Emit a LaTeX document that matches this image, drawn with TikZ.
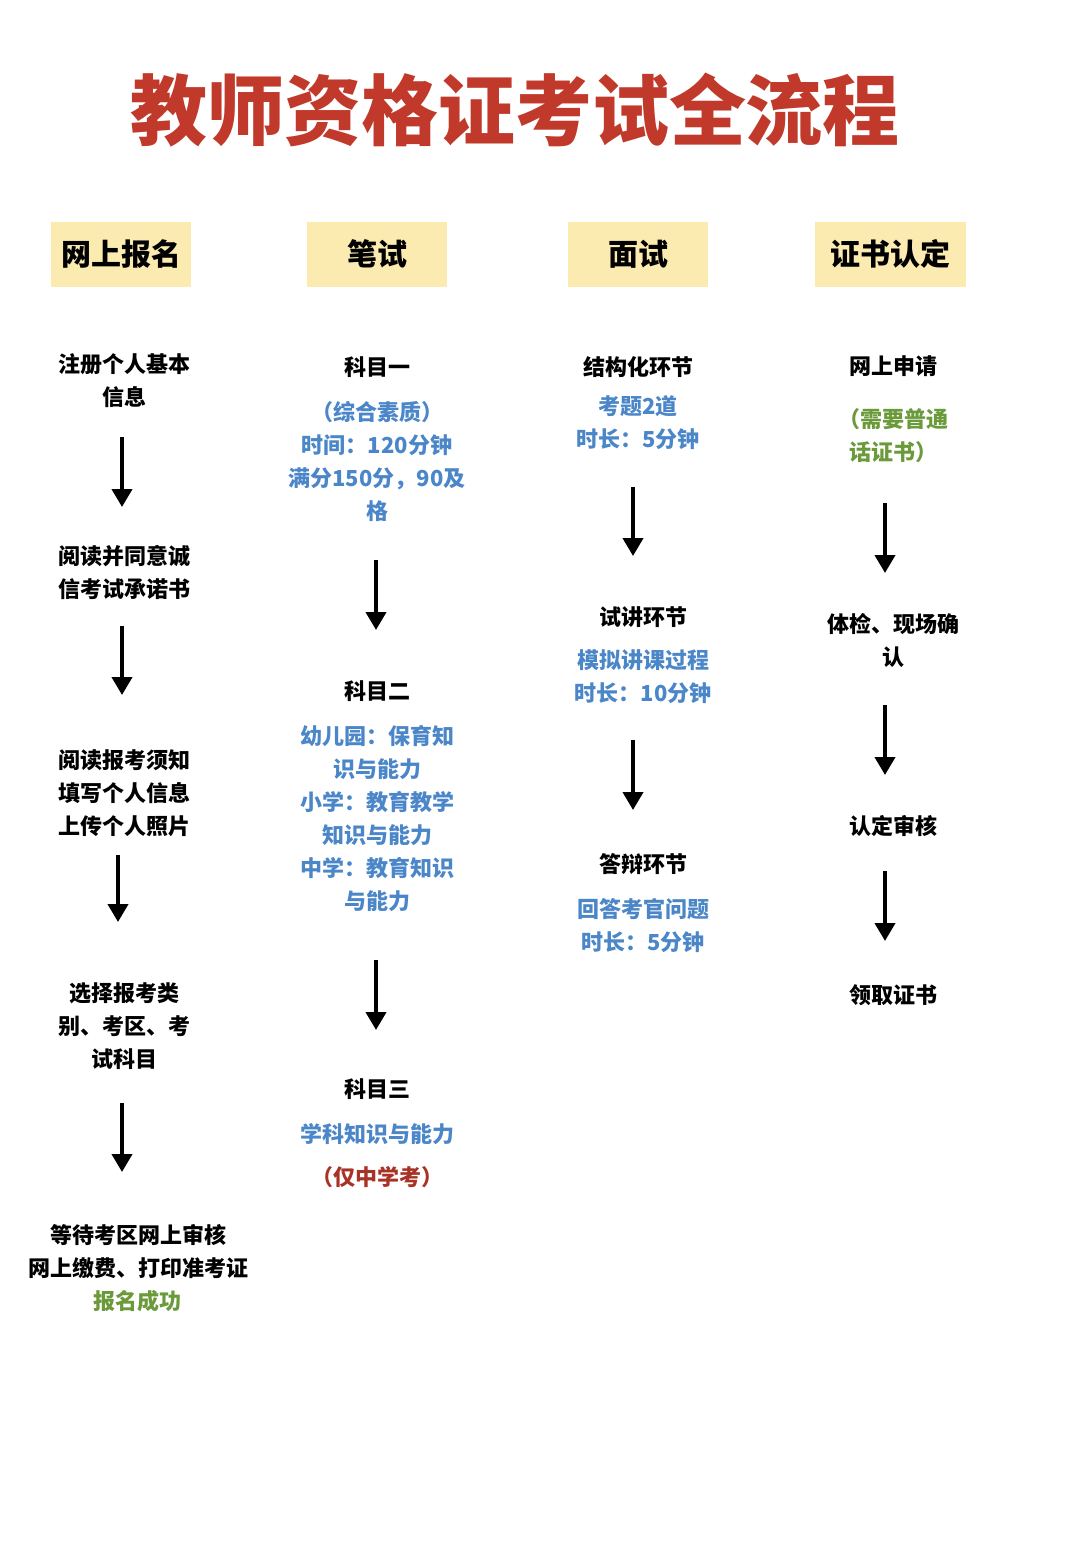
\documentclass[tikz,border=0pt]{standalone}
\usepackage{fontspec}
\usepackage{xcolor}
\usetikzlibrary{arrows.meta}
\newfontfamily\cjk{Noto Sans CJK SC}
\definecolor{titlered}{HTML}{C0392B}
\definecolor{headfill}{HTML}{FCEBB0}
\definecolor{stepblue}{HTML}{4A86C8}
\definecolor{stepgreen}{HTML}{6A9A3A}
\definecolor{stepred}{HTML}{A93226}
\tikzset{
  stage/.style={inner sep=0pt, align=center, font=\cjk\bfseries\fontsize{22pt}{33pt}\selectfont},
  head/.style={fill=headfill, minimum width=140pt, minimum height=65pt, inner sep=0pt, font=\cjk\bfseries\fontsize{30pt}{34pt}\selectfont},
  arr/.style={line width=4pt, -{Triangle[width=20pt,length=18pt]}},
}
\begin{document}
\begin{tikzpicture}[x=1pt,y=-1pt]
\useasboundingbox[fill=white] (0,0) rectangle (1080,1548);

% Title
\node[font=\cjk\bfseries\fontsize{77pt}{80pt}\selectfont, text=titlered] (title) at (515,110) {教师资格证考试全流程};

% Headers
\node[head] (h1) at (121,254) {网上报名};
\node[head] (h2) at (377,254) {笔试};
\node[head] (h3) at (638,254) {面试};
\node[head, minimum width=151pt] (h4) at (890,254) {证书认定};

% Column 1
\node[stage] (a1) at (124,381) {注册个人基本\\信息};
\node[stage] (a2) at (124,573) {阅读并同意诚\\信考试承诺书};
\node[stage] (a3) at (124,793) {阅读报考须知\\填写个人信息\\上传个人照片};
\node[stage] (a4) at (124,1026) {选择报考类\\别、考区、考\\试科目};
\node[stage] (a5) at (138,1268) {等待考区网上审核\\网上缴费、打印准考证\\\textcolor{stepgreen}{报名成功}};

% Column 2
\node[stage] (b1) at (377,439) {科目一\\[12pt]\color{stepblue}（综合素质）\\\color{stepblue}时间：120分钟\\\color{stepblue}满分150分，90及\\\color{stepblue}格};
\node[stage] (b2) at (377,796) {科目二\\[12pt]\color{stepblue}幼儿园：保育知\\\color{stepblue}识与能力\\\color{stepblue}小学：教育教学\\\color{stepblue}知识与能力\\\color{stepblue}中学：教育知识\\\color{stepblue}与能力};
\node[stage] (b3) at (377,1133) {科目三\\[12pt]\color{stepblue}学科知识与能力\\[10pt]\color{stepred}（仅中学考）};

% Column 3
\node[stage] (c1) at (638,403) {结构化环节\\[6pt]\color{stepblue}考题2道\\\color{stepblue}时长：5分钟};
\node[stage] (c2) at (643,655) {试讲环节\\[10pt]\color{stepblue}模拟讲课过程\\\color{stepblue}时长：10分钟};
\node[stage] (c3) at (643,903) {答辩环节\\[12pt]\color{stepblue}回答考官问题\\\color{stepblue}时长：5分钟};

% Column 4
\node[stage] (d1) at (893,409) {网上申请\\[20pt]\color{stepgreen}（需要普通\\\color{stepgreen}话证书）};
\node[stage] (d2) at (893,640) {体检、现场确\\认};
\node[stage] (d3) at (893,826) {认定审核};
\node[stage] (d4) at (893,995) {领取证书};

% Arrows
\draw[arr] (122,437) -- (122,507);
\draw[arr] (122,626) -- (122,695);
\draw[arr] (118,855) -- (118,922);
\draw[arr] (122,1103) -- (122,1172);
\draw[arr] (376,560) -- (376,630);
\draw[arr] (376,960) -- (376,1030);
\draw[arr] (633,487) -- (633,556);
\draw[arr] (633,740) -- (633,810);
\draw[arr] (885,503) -- (885,573);
\draw[arr] (885,705) -- (885,775);
\draw[arr] (885,871) -- (885,941);
\end{tikzpicture}
\end{document}
